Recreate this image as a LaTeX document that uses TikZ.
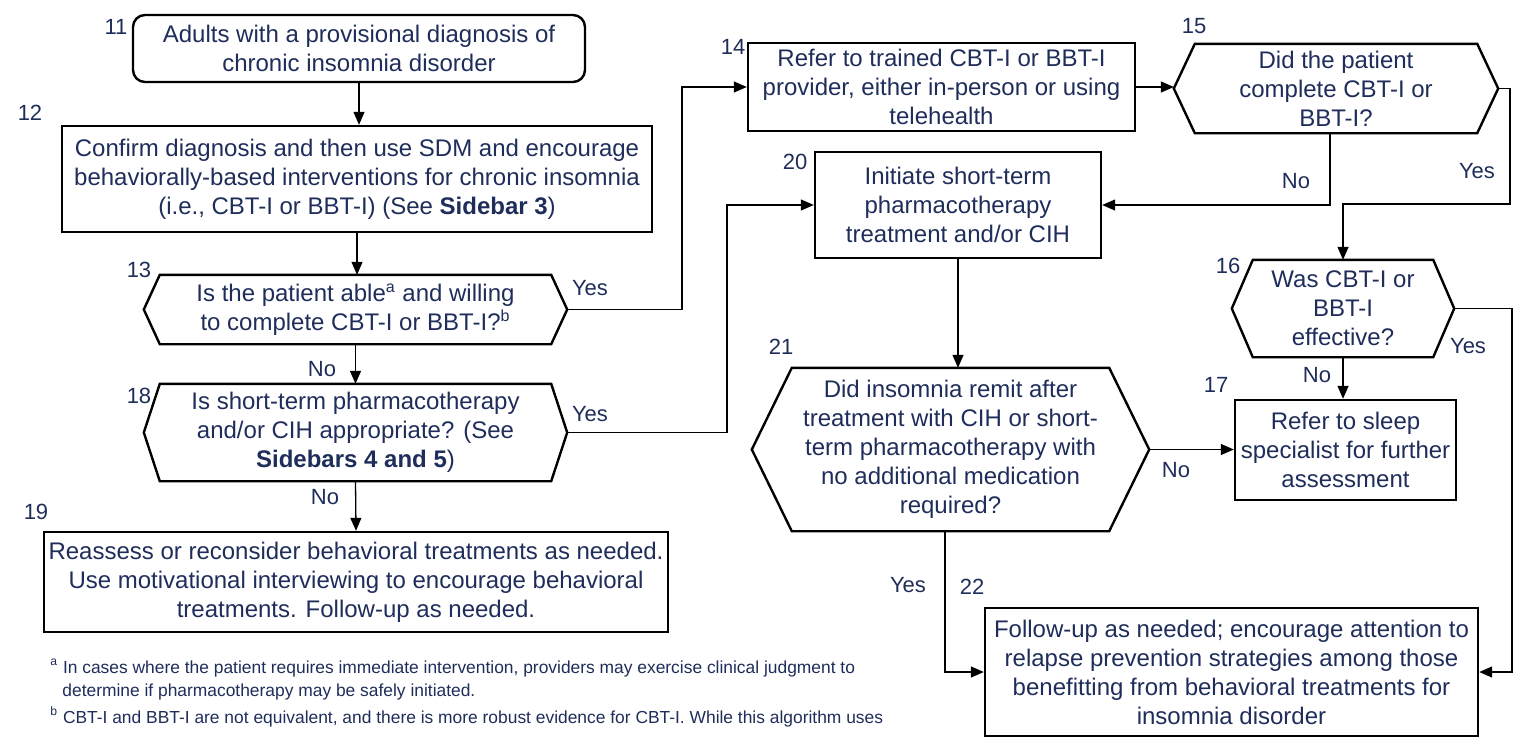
\documentclass[tikz,border=0pt]{standalone}
\usepackage{fontspec}
\setmainfont{Liberation Sans}
\usetikzlibrary{arrows.meta}
\definecolor{navy}{RGB}{31,45,90}
% hexagon round a named node, #2 = inset of the corners
\newcommand{\hexa}[2]{\draw[line width=1.2pt] ([xshift=#2]#1.north west) -- ([xshift=-#2]#1.north east) -- (#1.east) -- ([xshift=-#2]#1.south east) -- ([xshift=#2]#1.south west) -- (#1.west) -- cycle;}
\tikzset{
  box/.style={draw, line width=1.2pt, inner sep=0pt, align=center, text=navy, font=\fontsize{12}{14.5}\selectfont},
  decision/.style={box, draw=none},
  num/.style={text=navy, inner sep=0pt, font=\fontsize{11}{13}\selectfont},
  lab/.style={text=navy, inner sep=0pt, font=\fontsize{11}{13}\selectfont},
  foot/.style={text=navy, inner sep=0pt, anchor=west, font=\fontsize{8.7}{10}\selectfont},
  arr/.style={-{Triangle[length=6.5pt,width=5.5pt]}, line width=0.65pt}
}
\begin{document}
\begin{tikzpicture}[x=0.5pt,y=-0.5pt]
\useasboundingbox (0,0) rectangle (1519,739);
% left column
\node[box, rounded corners=6pt, minimum width=226pt, minimum height=33.5pt] (n11) at (359,48.5) {Adults with a provisional diagnosis of\\chronic insomnia disorder};
\node[box, minimum width=295pt, minimum height=53pt] (n12) at (357,179) {Confirm diagnosis and then use SDM and encourage\\behaviorally-based interventions for chronic insomnia\\(i.e., CBT-I or BBT-I) (See \textbf{Sidebar 3})};
\node[decision, minimum width=210.5pt, minimum height=33.5pt] (n13) at (355.5,309.5) {Is the patient able\textsuperscript{a} and willing\\to complete CBT-I or BBT-I?\textsuperscript{b}};
\node[decision, minimum width=210.5pt, minimum height=47.5pt] (n18) at (355.5,432.5) {Is short-term pharmacotherapy\\and/or CIH appropriate? (See\\\textbf{Sidebars 4 and 5})};
\node[box, minimum width=312pt, minimum height=50pt] (n19) at (356,582) {Reassess or reconsider behavioral treatments as needed.\\Use motivational interviewing to encourage behavioral\\treatments. Follow-up as needed.};
\hexa{n13}{8pt}\hexa{n18}{8pt}
% right part
\node[box, minimum width=193.5pt, minimum height=44pt] (n14) at (941.5,87) {Refer to trained CBT-I or BBT-I\\provider, either in-person or using\\telehealth};
\node[decision, minimum width=161pt, minimum height=43.5pt] (n15) at (1336,88.5) {Did the patient\\complete CBT-I or\\BBT-I?};
\node[box, minimum width=143pt, minimum height=53pt] (n20) at (958,205) {Initiate short-term\\pharmacotherapy\\treatment and/or CIH};
\node[decision, minimum width=197.5pt, minimum height=80.5pt] (n21) at (950.5,449.5) {Did insomnia remit after\\treatment with CIH or short-\\term pharmacotherapy with\\no additional medication\\required?};
\node[decision, minimum width=110pt, minimum height=47.5pt] (n16) at (1343,308.5) {Was CBT-I or\\BBT-I\\effective?};
\node[box, minimum width=110.5pt, minimum height=50pt] (n17) at (1345.5,450) {Refer to sleep\\specialist for further\\assessment};
\node[box, minimum width=246.5pt, minimum height=64pt] (n22) at (1231.5,672) {Follow-up as needed; encourage attention to\\relapse prevention strategies among those\\benefitting from behavioral treatments for\\insomnia disorder};
\hexa{n15}{10.5pt}\hexa{n21}{20pt}\hexa{n16}{10.5pt}
% step numbers
\node[num] (k11) at (116,27) {11};\node[num] (k12) at (30,113) {12};\node[num] (k13) at (139,270) {13};\node[num] (k18) at (139,396) {18};\node[num] (k19) at (36,512) {19};
\node[num] (k14) at (733,47) {14};\node[num] (k15) at (1194,26) {15};\node[num] (k20) at (795,162) {20};\node[num] (k21) at (781,347) {21};
\node[num] (k16) at (1228,266) {16};\node[num] (k17) at (1216,385) {17};\node[num] (k22) at (972,587) {22};
% connectors
\draw[arr] (n11.south) -- (n11.south |- n12.north);
\draw[arr] (n12.south) -- (n12.south |- n13.north);
\draw[arr] (n13.south) -- (n18.north);
\draw[arr] (n18.south) -- (n19.north);
\draw[arr] (n13.east) -- (682,309.5) |- (n14.west);
\draw[arr] (n18.east) -- (727,432.5) |- (n20.west);
\draw[arr] (n14.east) -- (n14.east -| n15.west);
\draw[arr] ([xshift=-3pt]n15.south) |- (n20.east);
\draw[arr] (n15.east) -- (1510,88.5) -- (1510,204) -| (n16.north);
\draw[arr] (n20.south) -- (n20.south |- n21.north);
\draw[arr] (n21.east) -- (n21.east -| n17.west);
\draw[arr] (n16.south) -- (n16.south |- n17.north);
\draw[arr] ([xshift=-2.75pt]n21.south) |- (n22.west);
\draw[arr] (n16.east) -- (1512,308.5) |- (n22.east);
% yes / no
\node[lab] (y13) at (590,288) {Yes};\node[lab] (no13) at (322,369) {No};
\node[lab] (y18) at (590,414) {Yes};\node[lab] (no18) at (325,497) {No};
\node[lab] (no15) at (1296,181) {No};\node[lab] (y15) at (1477,171) {Yes};
\node[lab] (y16) at (1468,346) {Yes};\node[lab] (no16) at (1317,375) {No};
\node[lab] (no21) at (1176,470) {No};\node[lab] (y21) at (908,585) {Yes};
% footnotes
\node[foot] (fa1) at (50,668) {\textsuperscript{a} In cases where the patient requires immediate intervention, providers may exercise clinical judgment to};
\node[foot] (fa2) at (62,692) {determine if pharmacotherapy may be safely initiated.};
\node[foot] (fb) at (50,717) {\textsuperscript{b} CBT-I and BBT-I are not equivalent, and there is more robust evidence for CBT-I. While this algorithm uses};
\end{tikzpicture}
\end{document}
